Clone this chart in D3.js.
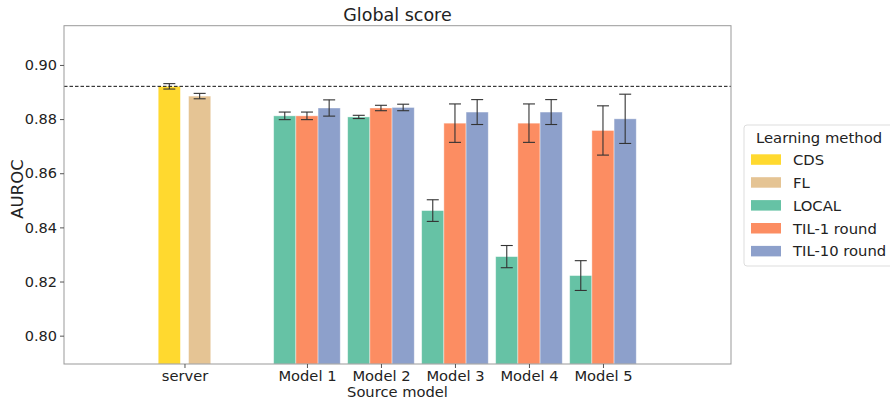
<!DOCTYPE html>
<html><head><meta charset="utf-8">
<script src="https://cdn.jsdelivr.net/npm/d3@7"></script>
<style>body{margin:0;background:#fff;} text{font-family:"DejaVu Sans",sans-serif;fill:#222;}</style>
</head><body><svg id="c" width="890" height="403"></svg>
<script>
const categories = ["server","Model 1","Model 2","Model 3","Model 4","Model 5"];
const methods = ["CDS","FL","LOCAL","TIL-1 round","TIL-10 round"];
const colors = ["#ffd92f","#e5c494","#66c2a5","#fc8d62","#8da0cb"];
const serverMethods = ["CDS","FL"];
const serverMean = [0.8921, 0.8885];
const serverErr  = [0.0010, 0.0010];
const modelMethods = ["LOCAL","TIL-1 round","TIL-10 round"];
const localMean = [0.8812, 0.8808, 0.8462, 0.8292, 0.8222];
const localErr  = [0.0014, 0.0006, 0.0040, 0.0041, 0.0055];
const til1Mean  = [0.8812, 0.8841, 0.8785, 0.8785, 0.8758];
const til1Err   = [0.0014, 0.0010, 0.0071, 0.0071, 0.0091];
const til10Mean = [0.8841, 0.8843, 0.8826, 0.8826, 0.8801];
const til10Err  = [0.0030, 0.0012, 0.0046, 0.0046, 0.0091];
const refLine = 0.8921;
const yTicks = [0.80,0.82,0.84,0.86,0.88,0.90];

const svg = d3.select("#c");
const L=64, R=731, T=25.7, B=364;
const pos = c => c==="server" ? 0 : 1.655 + categories.indexOf(c) - 1;
const x = d3.scaleLinear().domain([-1.628, 7.385]).range([L,R]);
const y = d3.scaleLinear().domain([0.78953, 0.91450]).range([B,T]);
const color = d3.scaleOrdinal().domain(methods).range(colors);
const bw = 0.3;

const bars = [];
serverMethods.forEach((m,i)=>bars.push({cat:"server",m,off:(i-0.5)*0.41,v:serverMean[i],e:serverErr[i]}));
const mm=[localMean,til1Mean,til10Mean], me=[localErr,til1Err,til10Err];
categories.slice(1).forEach((c,ci)=>modelMethods.forEach((m,k)=>bars.push({cat:c,m,off:(k-1)*bw,v:mm[k][ci],e:me[k][ci]})));

const g = svg.append("g");
g.selectAll("rect.bar").data(bars).join("rect").attr("class","bar")
 .attr("x",d=>x(pos(d.cat)+d.off-bw/2)).attr("width",x(bw)-x(0))
 .attr("y",d=>y(d.v)).attr("height",d=>B-y(d.v))
 .attr("fill",d=>color(d.m)).attr("stroke","#fff").attr("stroke-opacity",0.5).attr("stroke-width",0.8);

const eb = g.selectAll("g.eb").data(bars).join("g").attr("class","eb").attr("stroke","#333").attr("stroke-width",1.1);
eb.append("line").attr("x1",d=>x(pos(d.cat)+d.off)).attr("x2",d=>x(pos(d.cat)+d.off)).attr("y1",d=>y(d.v-d.e)).attr("y2",d=>y(d.v+d.e));
[1,-1].forEach(s=>eb.append("line").attr("x1",d=>x(pos(d.cat)+d.off)-6).attr("x2",d=>x(pos(d.cat)+d.off)+6).attr("y1",d=>y(d.v+s*d.e)).attr("y2",d=>y(d.v+s*d.e)));

svg.append("line").attr("x1",L).attr("x2",R).attr("y1",y(refLine)).attr("y2",y(refLine)).attr("stroke","#111").attr("stroke-width",1).attr("stroke-dasharray","3.5,2");

svg.append("rect").attr("x",L).attr("y",T).attr("width",R-L).attr("height",B-T).attr("fill","none").attr("stroke","#999").attr("stroke-width",1);

const ya = svg.append("g").attr("transform",`translate(${L},0)`).call(d3.axisLeft(y).tickValues(yTicks).tickFormat(d3.format(".2f")).tickSize(4).tickPadding(3));
ya.select(".domain").remove();
ya.selectAll("line").attr("stroke","#555");
ya.selectAll("text").attr("font-size",14.5).attr("fill","#222");

const xa = svg.append("g").attr("transform",`translate(0,${B})`).call(d3.axisBottom(x).tickValues(categories.map(pos)).tickFormat((d,i)=>categories[i]).tickSize(4).tickPadding(3));
xa.select(".domain").remove();
xa.selectAll("line").attr("stroke","#555");
xa.selectAll("text").attr("font-size",14.7).attr("fill","#222");

svg.append("text").attr("x",(L+R)/2).attr("y",21).attr("text-anchor","middle").attr("font-size",17.5).text("Global score");
svg.append("text").attr("transform",`translate(22.5,189) rotate(-90)`).attr("text-anchor","middle").attr("font-size",16.5).text("AUROC");
svg.append("text").attr("x",(L+R)/2).attr("y",397).attr("text-anchor","middle").attr("font-size",14.7).text("Source model");

const lg = svg.append("g");
lg.append("rect").attr("x",744).attr("y",125).attr("width",150).attr("height",141).attr("rx",3).attr("fill","#fff").attr("stroke","#ddd");
lg.append("text").attr("x",756).attr("y",143).attr("font-size",14.8).text("Learning method");
methods.forEach((m,i)=>{
  const yy = 159.3 + i*22.9;
  lg.append("rect").attr("x",751).attr("y",yy-5).attr("width",30).attr("height",10.5).attr("fill",color(m));
  lg.append("text").attr("x",793).attr("y",yy+5.5).attr("font-size",14.8).text(m);
});
</script></body></html>
